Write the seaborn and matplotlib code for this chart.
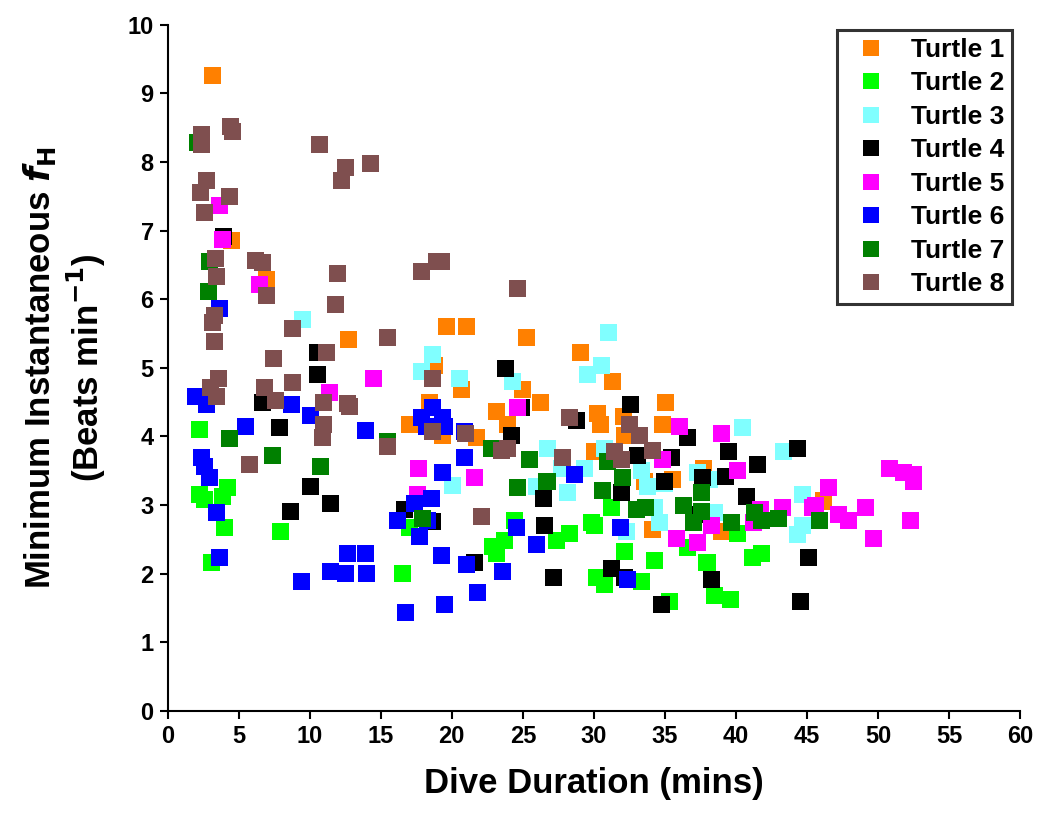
import matplotlib
matplotlib.use("Agg")
import matplotlib.pyplot as plt
import pandas as pd
import seaborn as sns

names = ["Turtle 1", "Turtle 2", "Turtle 3", "Turtle 4",
         "Turtle 5", "Turtle 6", "Turtle 7", "Turtle 8"]
colors = ["#FF8000", "#00FF00", "#80FFFF", "#000000",
          "#FF00FF", "#0000FF", "#008000", "#7F4F4F"]

t1_x = [3.17, 4.51, 6.97, 12.75, 19.65, 21.06, 25.28, 29.08, 31.34, 18.80, 20.70,
        18.45, 25.0, 26.27, 23.17, 23.94, 17.04, 19.37, 21.76, 30.28, 30.49, 32.11,
        32.18, 35.07, 34.86, 37.68, 35.56, 33.59, 34.15, 39.01, 30.07, 46.13]
t1_y = [9.26, 6.85, 6.28, 5.41, 5.60, 5.60, 5.44, 5.22, 4.80, 5.04, 4.68,
        4.49, 4.68, 4.50, 4.36, 4.17, 4.17, 4.02, 3.99, 4.34, 4.18, 4.29,
        4.02, 4.49, 4.17, 3.54, 3.37, 3.34, 2.64, 2.61, 3.78, 3.06]

t2_x = [2.25, 2.25, 2.61, 3.87, 4.23, 4.01, 7.96, 3.10, 16.55, 17.04, 22.89, 23.73,
        23.17, 24.44, 27.39, 28.31, 29.86, 30.21, 30.77, 30.07, 31.27, 32.18, 34.30,
        33.38, 35.35, 36.62, 37.96, 38.52, 39.58, 40.14, 41.13, 41.83]
t2_y = [4.10, 3.16, 3.08, 3.12, 3.25, 2.67, 2.61, 2.16, 2.01, 2.68, 2.39, 2.49,
        2.30, 2.78, 2.49, 2.58, 2.74, 1.94, 1.84, 2.71, 2.97, 2.32, 2.20,
        1.88, 1.59, 2.38, 2.17, 1.69, 1.62, 2.59, 2.24, 2.30]

t3_x = [9.51, 18.66, 17.89, 20.56, 24.30, 29.58, 30.56, 31.06, 26.76, 20.07, 27.75,
        29.37, 28.17, 25.99, 30.77, 33.38, 33.80, 35.0, 37.32, 38.17, 34.30, 34.65,
        32.32, 38.52, 40.49, 43.31, 44.65, 44.65, 44.30]
t3_y = [5.70, 5.19, 4.94, 4.85, 4.80, 4.90, 5.03, 5.51, 3.83, 3.29, 3.54,
        3.54, 3.18, 3.27, 3.83, 3.51, 3.27, 3.32, 3.48, 3.37, 2.96, 2.74,
        2.61, 2.89, 4.13, 3.78, 3.15, 2.71, 2.57]

t4_x = [3.94, 10.56, 10.56, 6.69, 7.89, 10.07, 11.48, 8.66, 23.80, 24.93, 28.80,
        24.23, 18.66, 16.69, 21.62, 26.48, 26.55, 27.18, 32.6, 36.62, 33.10, 35.49,
        39.44, 41.48, 44.30, 39.23, 37.61, 31.97, 35.0, 40.77, 37.11, 45.07, 31.27,
        32.18, 38.31, 34.79, 44.51]
t4_y = [6.92, 5.23, 4.90, 4.50, 4.13, 3.27, 3.02, 2.90, 4.99, 4.42, 4.23,
        4.02, 2.76, 2.93, 2.16, 3.10, 2.71, 1.94, 4.46, 3.99, 3.73, 3.70,
        3.78, 3.59, 3.83, 3.41, 3.40, 3.18, 3.34, 3.12, 2.86, 2.24, 2.08,
        1.94, 1.91, 1.55, 1.59]

t5_x = [3.66, 3.87, 6.48, 11.41, 14.51, 24.65, 17.68, 21.62, 17.61, 35.99, 39.01,
        34.86, 40.14, 35.8, 37.3, 38.3, 41.2, 41.7, 43.3, 45.4, 46.5, 45.6, 47.2,
        47.9, 49.1, 49.7, 50.8, 51.8, 52.5, 52.5, 52.3]
t5_y = [7.36, 6.87, 6.22, 4.64, 4.85, 4.42, 3.54, 3.40, 3.15, 4.15, 4.05,
        3.66, 3.50, 2.52, 2.45, 2.71, 2.74, 2.93, 2.97, 2.97, 3.25, 2.99, 2.86,
        2.77, 2.96, 2.52, 3.53, 3.48, 3.45, 3.34, 2.77]

t6_x = [3.66, 1.97, 2.75, 8.73, 10.07, 5.49, 13.94, 2.39, 2.61, 2.96, 3.45, 3.66,
        9.44, 12.68, 13.94, 11.48, 12.54, 14.01, 18.66, 17.89, 19.37, 19.5, 18.24,
        20.9, 20.92, 19.37, 18.6, 17.4, 16.2, 18.3, 17.75, 24.58, 25.99, 28.66,
        19.3, 21.06, 23.59, 21.83, 19.51, 16.76, 31.9, 32.4]
t6_y = [5.87, 4.58, 4.46, 4.46, 4.31, 4.14, 4.08, 3.69, 3.56, 3.40, 2.89, 2.23,
        1.89, 2.30, 2.29, 2.03, 2.0, 2.01, 4.42, 4.27, 4.27, 4.14, 4.14,
        4.07, 3.70, 3.48, 3.10, 3.03, 2.78, 2.78, 2.54, 2.67, 2.42, 3.44,
        2.27, 2.13, 2.03, 1.73, 1.55, 1.43, 2.67, 1.91]

t7_x = [2.1, 2.96, 2.89, 4.37, 7.39, 10.77, 15.5, 22.8, 25.5, 24.6, 26.7, 17.96,
        30.99, 32.0, 30.6, 37.6, 36.3, 33.0, 33.6, 37.6, 37.0, 39.7, 41.3, 41.8,
        43.0, 45.9]
t7_y = [8.28, 6.55, 6.11, 3.97, 3.73, 3.56, 3.92, 3.83, 3.66, 3.25, 3.34, 2.81,
        3.63, 3.40, 3.22, 3.18, 3.0, 2.94, 2.96, 2.90, 2.74, 2.74, 2.89, 2.78,
        2.81, 2.77]

t8_x = [4.44, 4.58, 2.39, 2.39, 10.70, 12.54, 14.30, 12.25, 2.75, 2.32, 4.37, 2.61,
        3.38, 3.45, 6.20, 6.69, 6.97, 11.97, 11.83, 3.31, 3.17, 3.31, 8.80, 11.2,
        7.46, 3.59, 3.03, 3.45, 8.80, 6.83, 7.61, 10.99, 12.68, 12.82, 10.99, 10.92,
        5.77, 18.94, 19.3, 17.89, 24.65, 15.49, 18.66, 18.66, 20.99, 28.31, 15.49,
        23.94, 23.5, 27.8, 22.1, 31.48, 31.97, 34.1, 32.5, 33.2]
t8_y = [8.51, 8.44, 8.40, 8.25, 8.25, 7.92, 7.97, 7.73, 7.73, 7.55, 7.49, 7.26,
        6.59, 6.33, 6.57, 6.53, 6.05, 6.37, 5.93, 5.76, 5.66, 5.39, 5.58, 5.23,
        5.13, 4.85, 4.71, 4.58, 4.78, 4.71, 4.52, 4.50, 4.48, 4.43, 4.17, 3.98,
        3.59, 6.55, 6.55, 6.40, 6.15, 5.44, 4.85, 4.07, 4.04, 4.27, 3.85,
        3.83, 3.80, 3.69, 2.83, 3.78, 3.66, 3.80, 4.17, 4.02]

xs = [t1_x, t2_x, t3_x, t4_x, t5_x, t6_x, t7_x, t8_x]
ys = [t1_y, t2_y, t3_y, t4_y, t5_y, t6_y, t7_y, t8_y]

frames = []
for name, x, y in zip(names, xs, ys):
    frames.append(pd.DataFrame({"Dive": x, "fH": y, "Turtle": name}))
df = pd.concat(frames, ignore_index=True)

sns.set_style("white")
plt.rcParams["font.family"] = ["Liberation Sans", "DejaVu Sans"]
plt.rcParams["font.weight"] = "bold"
plt.rcParams["text.color"] = "black"
plt.rcParams["axes.labelcolor"] = "black"
plt.rcParams["xtick.color"] = "black"
plt.rcParams["ytick.color"] = "black"

fig = plt.figure(figsize=(10.41, 8.22), dpi=100)
ax = fig.add_axes([0.161, 0.135, 0.819, 0.835])

sns.scatterplot(data=df, x="Dive", y="fH", hue="Turtle", hue_order=names,
                palette=colors, marker="s", s=150, linewidth=0, ax=ax)

ax.set_xlim(0, 60)
ax.set_ylim(0, 10)
ax.set_xticks(range(0, 61, 5))
ax.set_yticks(range(0, 11, 1))
ax.tick_params(axis="both", labelsize=17, direction="out", length=6, width=1.5,
               bottom=True, left=True, pad=4, colors="black")
for lab in ax.get_xticklabels() + ax.get_yticklabels():
    lab.set_fontweight("bold")

for side in ["top", "right"]:
    ax.spines[side].set_visible(False)
for side in ["left", "bottom"]:
    ax.spines[side].set_color("black")
    ax.spines[side].set_linewidth(1.5)

ax.set_xlabel("Dive Duration (mins)", fontsize=25, fontweight="bold", labelpad=14)
ax.set_ylabel("Minimum Instantaneous $\\boldsymbol{f}_{\\mathbf{H}}$\n(Beats min$^{\\mathbf{-1}}$)",
              fontsize=25, fontweight="bold", labelpad=14, linespacing=1.2)

leg = ax.legend(loc="upper right", bbox_to_anchor=(0.997, 1.0), frameon=True,
                fancybox=False, edgecolor="black", prop={"size": 19, "weight": "bold"},
                markerscale=0.9, handletextpad=0.5, borderpad=0.3, labelspacing=0.36,
                borderaxespad=0.2, handlelength=2.0)
leg.get_frame().set_linewidth(2.2)
for t in leg.get_texts():
    t.set_color("black")

fig.savefig("out.png", dpi=100)
